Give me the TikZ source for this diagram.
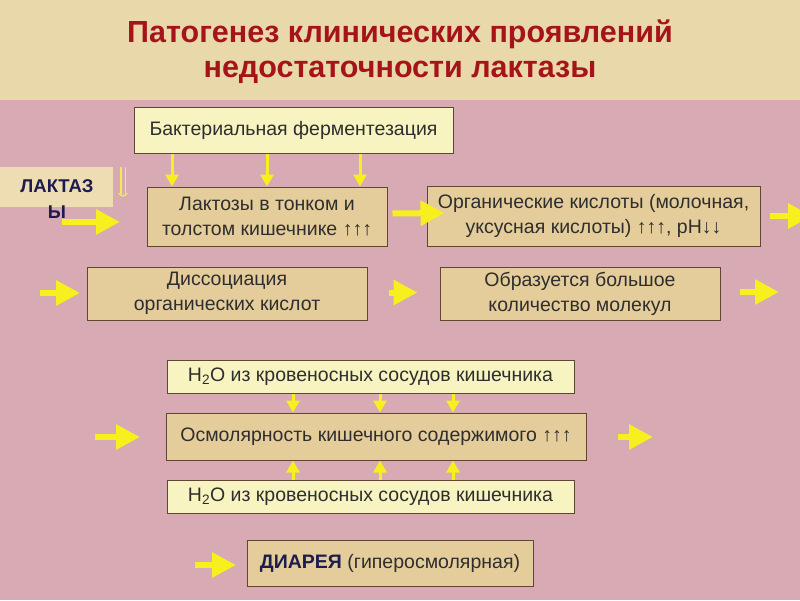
\documentclass[tikz,border=0pt]{standalone}
\usepackage{fontspec}
\setmainfont{Liberation Sans}
\usetikzlibrary{arrows.meta,calc}
\definecolor{bgpink}{HTML}{D8AAB3}
\definecolor{bgbeige}{HTML}{E9D8A9}
\definecolor{tanfill}{HTML}{E5CD9B}
\definecolor{paleyellow}{HTML}{F8F4C2}
\definecolor{lacfill}{HTML}{EEDCB2}
\definecolor{boxline}{HTML}{5E4632}
\definecolor{arrowyellow}{HTML}{F7EF1E}
\definecolor{titlered}{HTML}{A5141A}
\definecolor{navy}{HTML}{1C1C4E}
\definecolor{textgray}{HTML}{2E2E2E}
\begin{document}
\begin{tikzpicture}[x=1pt,y=-1pt,
  box/.style={draw=boxline, line width=1pt, inner sep=0pt, align=center,
    font=\fontsize{19.5}{25}\selectfont, text=textgray},
  tanbox/.style={box, fill=tanfill},
  yelbox/.style={box, fill=paleyellow},
  fatarrow/.style={draw=arrowyellow, line width=6pt,
    -{Triangle[width=24pt,length=24pt]}, arrowyellow},
  thinarrow/.style={draw=arrowyellow, line width=3pt,
    -{Triangle[width=13pt,length=12pt]}, arrowyellow}]
\useasboundingbox (0,0) rectangle (800,600);
\fill[bgpink] (0,0) rectangle (800,600);
\fill[bgbeige] (0,0) rectangle (800,100);

% title
\node[font=\fontsize{30.5}{35}\selectfont\bfseries, text=titlered, align=center] (title) at (400,52)
  {Патогенез клинических проявлений\\недостаточности лактазы};

% boxes
\node[yelbox, minimum width=319pt, minimum height=46pt] (bact) at (293.5,130) {Бактериальная ферментезация};
\node[fill=lacfill, inner sep=0pt, minimum width=113pt, minimum height=40pt] (lacbox) at (56.5,187) {};
\node[font=\fontsize{18.5}{26}\selectfont\bfseries, text=navy, align=center] (lac) at (57,199) {ЛАКТАЗ\\Ы};
\node[tanbox, minimum width=240pt, minimum height=59pt] (lak) at (267,216.5) {Лактозы в тонком и\\толстом кишечнике ↑↑↑};
\node[tanbox, minimum width=333pt, minimum height=60pt] (org) at (593.5,216) {Органические кислоты (молочная,\\уксусная кислоты) ↑↑↑, pH↓↓};
\node[tanbox, minimum width=280pt, minimum height=53pt] (dis) at (227,293.5) {Диссоциация\\органических кислот};
\node[tanbox, minimum width=280pt, minimum height=53pt] (obr) at (580,293.5) {Образуется большое\\количество молекул};
\node[yelbox, minimum width=407pt, minimum height=33pt] (h2oa) at (370.5,376.5) {H\textsubscript{2}O из кровеносных сосудов кишечника};
\node[tanbox, minimum width=420pt, minimum height=47pt] (osm) at (376,436.5) {Осмолярность кишечного содержимого ↑↑↑};
\node[yelbox, minimum width=407pt, minimum height=33pt] (h2ob) at (370.5,496.5) {H\textsubscript{2}O из кровеносных сосудов кишечника};
\node[tanbox, minimum width=286pt, minimum height=46pt] (dia) at (390,563) {\textbf{\textcolor{navy}{ДИАРЕЯ}} (гиперосмолярная)};

% small double arrow near ЛАКТАЗЫ
\coordinate (da1) at (123,167);
\coordinate (da2) at (123,197);
\draw[double=bgpink, draw=arrowyellow!70!lacfill, double distance=3pt, line width=1.2pt,
  -{Straight Barb[length=3pt,width=9pt]}] (da1) -- (da2);

% arrows from bacterial fermentation
\foreach \x in {172,267,360}
  \draw[thinarrow] (bact.south -| \x,0) -- (lak.north -| \x,0);

% fat arrows
\coordinate (a1s) at (62,222);  \coordinate (a1e) at (120,222);
\draw[fatarrow] (a1s) -- (a1e);
\draw[fatarrow] ($(lak.east)+(5,-3)$) -- ($(org.west)+(18,-3)$);
\coordinate (a3s) at (770,216); \coordinate (a3e) at (812,216);
\draw[fatarrow] (a3s) -- (a3e);
\coordinate (a4s) at (40,293);  \coordinate (a4e) at (80,293);
\draw[fatarrow] (a4s) -- (a4e);
\draw[fatarrow] ($(dis.east)+(21,-1)$) -- ($(obr.west)+(-22,-1)$);
\coordinate (a6s) at (740,292); \coordinate (a6e) at (779,292);
\draw[fatarrow] (a6s) -- (a6e);
\coordinate (a7s) at (95,437);  \coordinate (a7e) at (140,437);
\draw[fatarrow] (a7s) -- (a7e);
\coordinate (a8s) at (618,437); \coordinate (a8e) at (653,437);
\draw[fatarrow] (a8s) -- (a8e);
\coordinate (a9s) at (195,565); \coordinate (a9e) at (236,565);
\draw[fatarrow] (a9s) -- (a9e);

% water arrows
\foreach \x in {293,380,453} {
  \draw[thinarrow] (h2oa.south -| \x,0) -- (osm.north -| \x,0);
  \draw[thinarrow] (h2ob.north -| \x,0) -- (osm.south -| \x,0);
}
\end{tikzpicture}
\end{document}
